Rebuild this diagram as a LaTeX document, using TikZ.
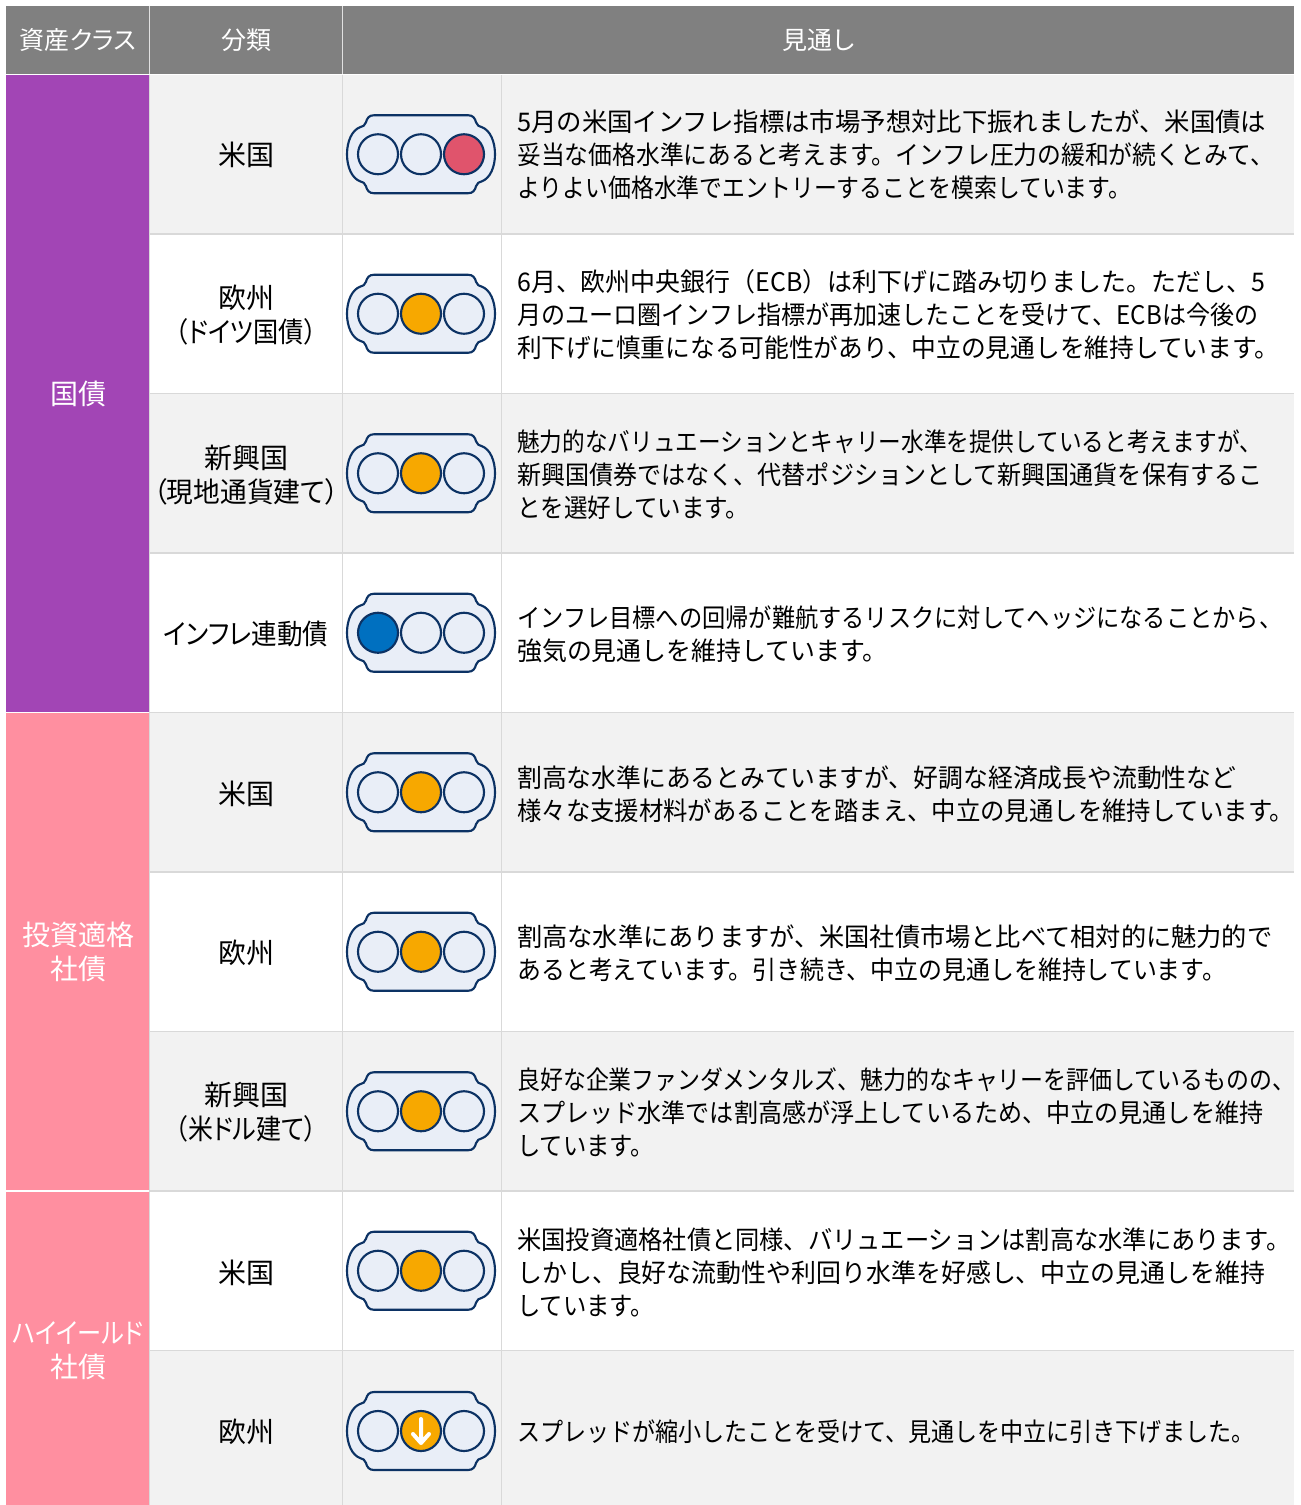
\documentclass[tikz,border=0pt]{standalone}
\usepackage{fontspec}
\setmainfont{Noto Sans CJK JP}
\newfontfamily\paltfont{Noto Sans CJK JP}[RawFeature=+palt]
\usepackage{graphicx}
\definecolor{hdrgray}{HTML}{808080}
\definecolor{rowgray}{HTML}{F2F2F2}
\definecolor{gridgray}{HTML}{D9D9D9}
\definecolor{catpurple}{HTML}{A245B5}
\definecolor{catpink}{HTML}{FF8FA0}
\definecolor{navy}{HTML}{0C3264}
\definecolor{lightfill}{HTML}{E9EEF7}
\definecolor{lred}{HTML}{E0546C}
\definecolor{lorange}{HTML}{F7A800}
\definecolor{lblue}{HTML}{0070C0}
\newcommand\fl[2]{\resizebox{\dimexpr #1pt*3/4\relax}{\height}{#2}}
\tikzset{
  hdr/.style={text=white, font=\paltfont\fontsize{18.75pt}{24pt}\selectfont, inner sep=0pt},
  cat/.style={text=white, font=\paltfont\fontsize{21pt}{25.5pt}\selectfont, align=center, inner sep=0pt},
  sub/.style={text=black, font=\paltfont\fontsize{21pt}{25.5pt}\selectfont, align=center, inner sep=0pt},
  body/.style={text=black, font=\fontsize{19.25pt}{24.75pt}\selectfont, align=left, anchor=west, inner sep=0pt},
  grid/.style={draw=gridgray, line width=1.1pt},
  housing/.style={draw=navy, fill=lightfill, line width=1.6pt},
  lamp/.style={draw=navy, line width=1.6pt},
  pics/tlight/.style n args={3}{code={
    \draw[housing] (-47,-39) -- (47,-39)
      .. controls (52,-39) and (54,-36) .. (55,-32)
      .. controls (56,-29) and (58,-27.5) .. (61,-27)
      .. controls (69,-24) and (74,-13) .. (74,0)
      .. controls (74,13) and (69,24) .. (61,27)
      .. controls (58,27.5) and (56,29) .. (55,32)
      .. controls (54,36) and (52,39) .. (47,39)
      -- (-47,39)
      .. controls (-52,39) and (-54,36) .. (-55,32)
      .. controls (-56,29) and (-58,27.5) .. (-61,27)
      .. controls (-69,24) and (-74,13) .. (-74,0)
      .. controls (-74,-13) and (-69,-24) .. (-61,-27)
      .. controls (-58,-27.5) and (-56,-29) .. (-55,-32)
      .. controls (-54,-36) and (-52,-39) .. (-47,-39) -- cycle;
    \draw[lamp, fill=#1] (-43,0) circle[radius=20];
    \draw[lamp, fill=#2] (0,0) circle[radius=20];
    \draw[lamp, fill=#3] (43,0) circle[radius=20];
  }}
}
\begin{document}
\begin{tikzpicture}[x=0.75pt, y=-0.75pt]
\useasboundingbox (0,0) rectangle (1300,1505);
\clip (0,0) rectangle (1300,1505);
\fill[white] (0,0) rectangle (1300,1505);
% header
\fill[hdrgray] (6,6) rectangle (1294,74.5);
\draw[draw=gridgray!80, line width=0.8pt] (149.5,6) -- (149.5,74.5) (342.5,6) -- (342.5,74.5);
% row backgrounds
\foreach \i in {0,2,4,6,8} {
  \fill[rowgray] (150,{74.5+\i*159.5}) rectangle (1294,{74.5+(\i+1)*159.5});
}
% category column
\fill[catpurple] (6,74.5) rectangle (149.5,712.5);
\fill[catpink] (6,712.5) rectangle (149.5,1191);
\fill[catpink] (6,1191) rectangle (149.5,1510);
% grid
\draw[grid] (149.5,74.5) -- (149.5,1510);
\draw[grid] (342.5,74.5) -- (342.5,1510);
\draw[grid] (501.5,74.5) -- (501.5,1510);
\foreach \i in {1,...,8} {
  \draw[grid] (150,{74.5+\i*159.5}) -- (1294,{74.5+\i*159.5});
}
\draw[white, line width=1.1pt] (6,74.5) -- (1294,74.5);
\draw[white, line width=1.1pt] (6,712.5) -- (149,712.5) (6,1191) -- (149,1191);
% header texts
\node[hdr] (h1) at (78,40) {資産クラス};
\node[hdr] (h2) at (246,40) {分類};
\node[hdr] (h3) at (818.5,40) {見通し};
% categories
\node[cat] (g1) at (78,394) {国債};
\node[cat] (g2) at (78,952) {投資適格\\社債};
\node[cat] (g3) at (78,1351) {\fl{131}{ハイイールド}\\社債};
% sub categories
\node[sub] (s1) at (246,155) {米国};
\node[sub] (s2) at (246,315) {欧州\\\fl{141}{（ドイツ国債）}};
\node[sub] (s3) at (246,475) {新興国\\\fl{185}{（現地通貨建て）}};
\node[sub] (s4) at (246,634) {\fl{165}{インフレ連動債}};
\node[sub] (s5) at (246,794) {米国};
\node[sub] (s6) at (246,953) {欧州};
\node[sub] (s7) at (246,1112) {新興国\\\fl{141}{（米ドル建て）}};
\node[sub] (s8) at (246,1272.5) {米国};
\node[sub] (s9) at (246,1432) {欧州};
% lights
\pic at (421,154.25) {tlight={lightfill}{lightfill}{lred}};
\pic at (421,313.75) {tlight={lightfill}{lorange}{lightfill}};
\pic at (421,473.25) {tlight={lightfill}{lorange}{lightfill}};
\pic at (421,632.75) {tlight={lblue}{lightfill}{lightfill}};
\pic at (421,792.25) {tlight={lightfill}{lorange}{lightfill}};
\pic at (421,951.75) {tlight={lightfill}{lorange}{lightfill}};
\pic at (421,1111.25) {tlight={lightfill}{lorange}{lightfill}};
\pic at (421,1270.75) {tlight={lightfill}{lorange}{lightfill}};
\pic at (421,1431) {tlight={lightfill}{lorange}{lightfill}};
\draw[white, line width=3pt, line cap=round, line join=round]
  (421,1419) -- (421,1443) (413,1434) -- (421,1443) -- (429,1434);
% body texts
\node[body] (t1) at (517,155) {\fl{749}{5月の米国インフレ指標は市場予想対比下振れましたが、米国債は}\\\fl{757}{妥当な価格水準にあると考えます。インフレ圧力の緩和が続くとみて、}\\\fl{614}{よりよい価格水準でエントリーすることを模索しています。}};
\node[body] (t2) at (517,315) {\fl{748}{6月、欧州中央銀行（ECB）は利下げに踏み切りました。ただし、5}\\\fl{741}{月のユーロ圏インフレ指標が再加速したことを受けて、ECBは今後の}\\\fl{762}{利下げに慎重になる可能性があり、中立の見通しを維持しています。}};
\node[body] (t3) at (517,475) {\fl{745}{魅力的なバリュエーションとキャリー水準を提供していると考えますが、}\\\fl{745}{新興国債券ではなく、代替ポジションとして新興国通貨を保有するこ}\\\fl{232}{とを選好しています。}};
\node[body] (t4) at (517,634) {\fl{765}{インフレ目標への回帰が難航するリスクに対してヘッジになることから、}\\\fl{370}{強気の見通しを維持しています。}};
\node[body] (t5) at (517,794) {\fl{719}{割高な水準にあるとみていますが、好調な経済成長や流動性など}\\\fl{777}{様々な支援材料があることを踏まえ、中立の見通しを維持しています。}};
\node[body] (t6) at (517,953) {\fl{755}{割高な水準にありますが、米国社債市場と比べて相対的に魅力的で}\\\fl{709}{あると考えています。引き続き、中立の見通しを維持しています。}};
\node[body] (t7) at (517,1112) {\fl{778}{良好な企業ファンダメンタルズ、魅力的なキャリーを評価しているものの、}\\\fl{746}{スプレッド水準では割高感が浮上しているため、中立の見通しを維持}\\\fl{137}{しています。}};
\node[body] (t8) at (517,1272) {\fl{773}{米国投資適格社債と同様、バリュエーションは割高な水準にあります。}\\\fl{748}{しかし、良好な流動性や利回り水準を好感し、中立の見通しを維持}\\\fl{137}{しています。}};
\node[body] (t9) at (517,1432) {\fl{737}{スプレッドが縮小したことを受けて、見通しを中立に引き下げました。}};
\end{tikzpicture}
\end{document}
